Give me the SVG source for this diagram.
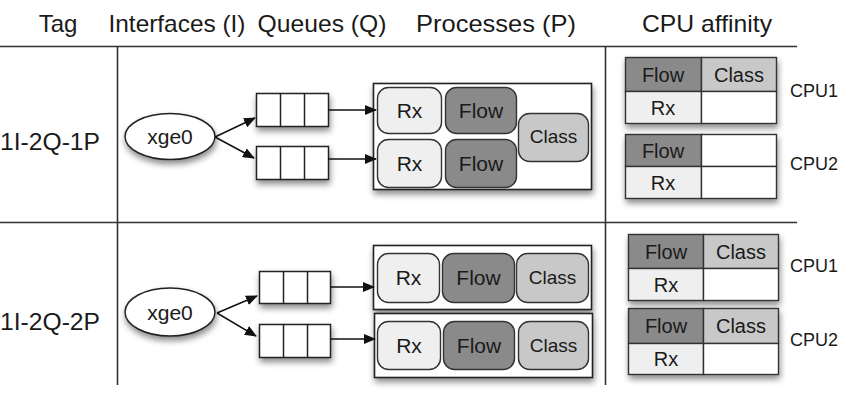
<svg xmlns="http://www.w3.org/2000/svg" width="849" height="412" viewBox="0 0 849 412">
<defs>
<filter id="sh" x="-20%" y="-20%" width="150%" height="170%">
<feDropShadow dx="1" dy="4" stdDeviation="3" flood-color="#000" flood-opacity="0.45"/>
</filter>
<marker id="ah" viewBox="0 0 12 10" refX="11" refY="5" markerWidth="12" markerHeight="10" markerUnits="userSpaceOnUse" orient="auto">
<path d="M0,0 L12,5 L0,10 z" fill="#111"/>
</marker>
</defs>
<style>
text{font-family:"Liberation Sans",Arial,sans-serif;fill:#1a1a1a}
.hd{font-size:24px;text-anchor:middle}
.tag{font-size:23px}
.grid{stroke:#333;stroke-width:1.6;fill:none}
.conn{stroke:#111;stroke-width:1.5;fill:none;marker-end:url(#ah)}
.ell{fill:#fff;stroke:#222;stroke-width:1.5;filter:url(#sh)}
.q{fill:#fff;stroke:#222;stroke-width:1.5;filter:url(#sh)}
.ql{stroke:#222;stroke-width:1.5}
.box{fill:#fff;stroke:#222;stroke-width:1.6;filter:url(#sh)}
.rx{fill:#efefef;stroke:#333;stroke-width:1.4}
.fl{fill:#8a8a8a;stroke:#333;stroke-width:1.4}
.cl{fill:#c8c8c8;stroke:#333;stroke-width:1.4}
.wh{fill:#fff;stroke:#333;stroke-width:1.4}
.pt{font-size:21px;text-anchor:middle}
.ct{font-size:19px;text-anchor:middle}
.tb{font-size:20px;text-anchor:middle}
.cpu{font-size:18px}
.tbl{filter:url(#sh)}
</style>
<rect width="849" height="412" fill="#fff"/>

<g id="header">
<text class="hd" x="58" y="32">Tag</text>
<text class="hd" x="177" y="32" textLength="137" lengthAdjust="spacingAndGlyphs">Interfaces (I)</text>
<text class="hd" x="322" y="32" textLength="129" lengthAdjust="spacingAndGlyphs">Queues (Q)</text>
<text class="hd" x="496" y="32" textLength="160" lengthAdjust="spacingAndGlyphs">Processes (P)</text>
<text class="hd" x="707" y="32" textLength="130" lengthAdjust="spacingAndGlyphs">CPU affinity</text>
</g>

<g id="grid" class="grid">
<line x1="0" y1="46.5" x2="797" y2="46.5"/>
<line x1="0" y1="222.5" x2="797" y2="222.5"/>
<line x1="117.5" y1="46" x2="117.5" y2="385"/>
<line x1="605.5" y1="46" x2="605.5" y2="385"/>
</g>

<g id="tag1"><text class="tag" x="0" y="150" textLength="100" lengthAdjust="spacingAndGlyphs">1I-2Q-1P</text></g>
<g id="tag2"><text class="tag" x="0" y="330" textLength="100" lengthAdjust="spacingAndGlyphs">1I-2Q-2P</text></g>

<!-- Row 1 -->
<g id="if1">
<ellipse class="ell" cx="170" cy="136.5" rx="45" ry="23"/>
<text x="170" y="144" font-size="21" text-anchor="middle">xge0</text>
</g>
<g id="q1a">
<rect class="q" x="256.5" y="93.5" width="72" height="33"/>
<line class="ql" x1="280.5" y1="93.5" x2="280.5" y2="126.5"/>
<line class="ql" x1="304.5" y1="93.5" x2="304.5" y2="126.5"/>
</g>
<g id="q1b">
<rect class="q" x="256.5" y="146.5" width="72" height="33"/>
<line class="ql" x1="280.5" y1="146.5" x2="280.5" y2="179.5"/>
<line class="ql" x1="304.5" y1="146.5" x2="304.5" y2="179.5"/>
</g>
<g id="p1">
<rect class="box" x="373.5" y="83.5" width="218" height="106"/>
<rect class="rx" x="377.5" y="87.5" width="64" height="46" rx="11"/>
<text class="pt" x="409.5" y="118">Rx</text>
<rect class="rx" x="377.5" y="139.5" width="64" height="48" rx="11"/>
<text class="pt" x="409.5" y="171">Rx</text>
<rect class="fl" x="445.5" y="87.5" width="71" height="46" rx="11"/>
<text class="pt" x="481" y="118">Flow</text>
<rect class="fl" x="445.5" y="139.5" width="71" height="48" rx="11"/>
<text class="pt" x="481" y="171">Flow</text>
<rect class="cl" x="518.5" y="113.5" width="70" height="48" rx="11"/>
<text class="ct" x="553.5" y="143">Class</text>
</g>
<g id="cpu1a" class="tbl">
<rect class="fl" x="625.5" y="57.5" width="76" height="34"/>
<rect class="cl" x="701.5" y="57.5" width="75" height="34"/>
<rect class="rx" x="625.5" y="91.5" width="76" height="32"/>
<rect class="wh" x="701.5" y="91.5" width="75" height="32"/>
</g>
<g id="cpu1a-t">
<text class="tb" x="663" y="82">Flow</text>
<text class="tb" x="739" y="82">Class</text>
<text class="tb" x="663" y="115">Rx</text>
<text class="cpu" x="790" y="97">CPU1</text>
</g>
<g id="cpu1b" class="tbl">
<rect class="fl" x="625.5" y="134.5" width="76" height="32"/>
<rect class="wh" x="701.5" y="134.5" width="75" height="32"/>
<rect class="rx" x="625.5" y="166.5" width="76" height="32"/>
<rect class="wh" x="701.5" y="166.5" width="75" height="32"/>
</g>
<g id="cpu1b-t">
<text class="tb" x="663" y="158">Flow</text>
<text class="tb" x="663" y="190">Rx</text>
<text class="cpu" x="790" y="170">CPU2</text>
</g>

<!-- Row 2 -->
<g id="if2">
<ellipse class="ell" cx="170" cy="312" rx="45" ry="24"/>
<text x="170" y="320" font-size="21" text-anchor="middle">xge0</text>
</g>
<g id="q2a">
<rect class="q" x="259.5" y="271.5" width="71" height="32"/>
<line class="ql" x1="283.5" y1="271.5" x2="283.5" y2="303.5"/>
<line class="ql" x1="307.5" y1="271.5" x2="307.5" y2="303.5"/>
</g>
<g id="q2b">
<rect class="q" x="259.5" y="324.5" width="71" height="33"/>
<line class="ql" x1="283.5" y1="324.5" x2="283.5" y2="357.5"/>
<line class="ql" x1="307.5" y1="324.5" x2="307.5" y2="357.5"/>
</g>
<g id="p2a">
<rect class="box" x="373.5" y="245.5" width="218" height="64"/>
<rect class="rx" x="377.5" y="253.5" width="62" height="49" rx="11"/>
<text class="pt" x="408.5" y="285">Rx</text>
<rect class="fl" x="442.5" y="253.5" width="72" height="49" rx="11"/>
<text class="pt" x="478.5" y="285">Flow</text>
<rect class="cl" x="516.5" y="253.5" width="72" height="49" rx="11"/>
<text class="ct" x="552.5" y="284">Class</text>
</g>
<g id="p2b">
<rect class="box" x="374.5" y="313.5" width="218" height="64"/>
<rect class="rx" x="377.5" y="321.5" width="63" height="48" rx="11"/>
<text class="pt" x="409" y="353">Rx</text>
<rect class="fl" x="443.5" y="321.5" width="71" height="48" rx="11"/>
<text class="pt" x="479" y="353">Flow</text>
<rect class="cl" x="518.5" y="321.5" width="70" height="48" rx="11"/>
<text class="ct" x="553.5" y="352">Class</text>
</g>
<g id="cpu2a" class="tbl">
<rect class="fl" x="628.5" y="234.5" width="75" height="34"/>
<rect class="cl" x="703.5" y="234.5" width="75" height="34"/>
<rect class="rx" x="628.5" y="268.5" width="75" height="32"/>
<rect class="wh" x="703.5" y="268.5" width="75" height="32"/>
</g>
<g id="cpu2a-t">
<text class="tb" x="666" y="259">Flow</text>
<text class="tb" x="741" y="259">Class</text>
<text class="tb" x="666" y="292">Rx</text>
<text class="cpu" x="790" y="272">CPU1</text>
</g>
<g id="cpu2b" class="tbl">
<rect class="fl" x="628.5" y="308.5" width="75" height="35"/>
<rect class="cl" x="703.5" y="308.5" width="75" height="35"/>
<rect class="rx" x="628.5" y="343.5" width="75" height="31"/>
<rect class="wh" x="703.5" y="343.5" width="75" height="31"/>
</g>
<g id="cpu2b-t">
<text class="tb" x="666" y="333">Flow</text>
<text class="tb" x="741" y="333">Class</text>
<text class="tb" x="666" y="366">Rx</text>
<text class="cpu" x="790" y="346">CPU2</text>
</g>

<g id="connectors">
<line class="conn" x1="215" y1="137" x2="255" y2="118"/>
<line class="conn" x1="215" y1="137" x2="254" y2="158"/>
<line class="conn" x1="328" y1="110" x2="376" y2="110"/>
<line class="conn" x1="328" y1="159" x2="376" y2="159"/>
<line class="conn" x1="217" y1="313" x2="257" y2="296"/>
<line class="conn" x1="217" y1="313" x2="256" y2="336"/>
<line class="conn" x1="330" y1="287" x2="374" y2="287"/>
<line class="conn" x1="330" y1="339" x2="375" y2="339"/>
</g>
</svg>
